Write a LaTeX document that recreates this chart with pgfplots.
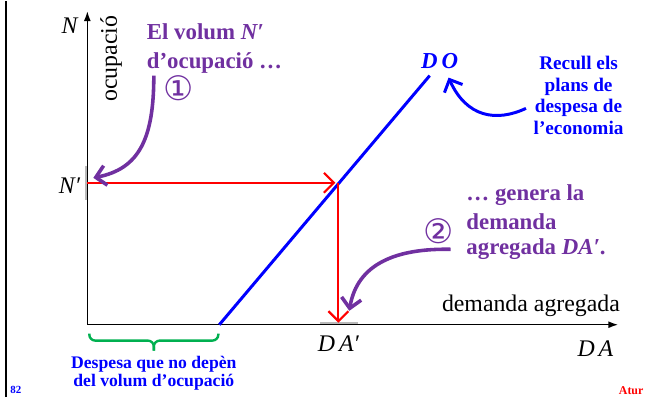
\documentclass[border=0pt]{standalone}
\usepackage{fontspec}
\setmainfont{Liberation Serif}
\newfontfamily\dejavu{DejaVu Sans}
\usepackage{pgfplots}
\pgfplotsset{compat=1.18}
\usetikzlibrary{arrows.meta}
\definecolor{pur}{RGB}{112,48,160}
\definecolor{grn}{RGB}{0,176,80}
\definecolor{blu}{RGB}{0,0,255}
\definecolor{redc}{RGB}{255,0,0}
\begin{document}
\begin{tikzpicture}
\begin{axis}[scale only axis, width=325pt, height=199.5pt,
  xmin=0, xmax=650, ymin=0, ymax=399, hide axis, clip=false]
\path (0,0) rectangle (650,399);
% left border
\draw[black, line width=1.2pt] (6,0) -- (6,399);
% gray ticks
\draw[gray!55, line width=1.4pt] (322,74) -- (361,74);
\draw[gray!55, line width=1.2pt] (87,199) -- (87,233);
% axes
\draw[black, line width=0.75pt, -{Latex[length=5pt,width=3.5pt]}] (88,73) -- (623,73);
\draw[black, line width=0.75pt, -{Latex[length=5pt,width=3.5pt]}] (88,73) -- (88,389);
% DO line
\addplot[blu, line width=1.5pt] coordinates {(221,73) (433,324)};
% red arrows
\addplot[redc, line width=1.1pt, -{Straight Barb[length=5pt,width=10pt]}] coordinates {(88,216) (338,216)};
\addplot[redc, line width=1.1pt, -{Straight Barb[length=5pt,width=10pt]}] coordinates {(341,216) (341,75)};
% axis labels
\node[font=\fontsize{12}{14}\selectfont\itshape] at (70,374) {N};
\node[font=\fontsize{12}{14}\selectfont, rotate=90] at (112,341) {ocupació};
\node[font=\fontsize{12}{14}\selectfont\itshape] at (70,213) {N′};
\node[font=\fontsize{12}{14}\selectfont\itshape] at (341,54) {D\,A′};
\node[font=\fontsize{12}{14}\selectfont\itshape] at (600,49) {D\,A};
\node[font=\fontsize{12}{14}\selectfont] at (535,92) {demanda agregada};
% DO label
\node[font=\fontsize{11.5}{14}\selectfont\bfseries\itshape, text=blu] at (443,339) {D\,O};
% blue note
\node[font=\fontsize{9.7}{11}\selectfont\bfseries, text=blu, align=center] at (583,304) {Recull els\\plans de\\despesa de\\l’economia};
\draw[blu, line width=1.5pt, -{Straight Barb[length=5pt,width=10pt]}] (530,291) .. controls (500,277) and (470,282) .. (452,322);
% purple 1
\node[font=\fontsize{11.5}{14}\selectfont\bfseries, text=pur, anchor=west] at (141,368) {El volum \textit{N′}};
\node[font=\fontsize{11.5}{14}\selectfont\bfseries, text=pur, anchor=west] at (141,337) {d’ocupació …};
\node[font=\fontsize{17}{18}\selectfont\dejavu, text=pur] at (180,311) {①};
\draw[pur, line width=1.8pt, -{Straight Barb[length=5pt,width=10pt]}] (155,324) .. controls (155,260) and (140,230) .. (94,221);
% purple 2
\node[font=\fontsize{11.5}{14}\selectfont\bfseries, text=pur, anchor=west] at (463,204) {… genera la};
\node[font=\fontsize{11.5}{14}\selectfont\bfseries, text=pur, anchor=west] at (463,177) {demanda};
\node[font=\fontsize{11.5}{14}\selectfont\bfseries, text=pur, anchor=west] at (463,149) {agregada \textit{DA′}.};
\node[font=\fontsize{17}{18}\selectfont\dejavu, text=pur] at (442,167) {②};
\draw[pur, line width=1.8pt, -{Straight Barb[length=5pt,width=10pt]}] (454,149) .. controls (400,150) and (360,135) .. (352,87);
% green brace
\draw[grn, line width=1.2pt, rounded corners=3pt] (90,64) -- (90,57) -- (155,57) -- (155,47);
\draw[grn, line width=1.2pt, rounded corners=3pt] (220,64) -- (220,57) -- (155,57) -- (155,47);
\node[font=\fontsize{8.9}{9.4}\selectfont\bfseries, text=blu, align=center] at (155,24) {Despesa que no depèn\\del volum d’ocupació};
% footer
\node[font=\fontsize{5.5}{6}\selectfont\bfseries, text=blu] at (16,7) {82};
\node[font=\fontsize{6}{7}\selectfont\bfseries, text=redc] at (636,7) {Atur};
\end{axis}
\end{tikzpicture}
\end{document}
